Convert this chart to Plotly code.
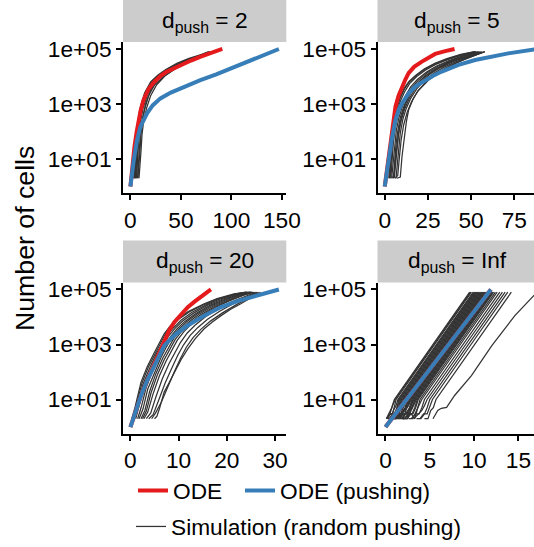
import plotly.graph_objects as go

# ---------------- data ----------------
panel_labels = ["2", "5", "20", "Inf"]

# d_push = 2
ode_t_2 = [0, 2, 4, 6, 8, 10, 13, 18, 23, 30, 36, 45, 53, 60, 69, 80, 91]
ode_n_2 = [1, 6.3, 28, 89, 250, 560, 1400, 3500, 6000, 10500, 15000, 22000, 30000, 38000, 52000, 71000, 100000]
push_t_2 = [0, 1.5, 3.3, 5, 6.6, 9.9, 13, 16.5, 22, 29.7, 40, 49.5, 60, 69.3, 85, 100, 122, 147]
push_n_2 = [1, 3.2, 9.1, 22, 49, 150, 280, 460, 890, 1600, 2600, 3700, 5400, 7400, 12000, 20000, 40000, 100000]
sim_t_2 = [
    [3, 4, 5, 6, 8, 10, 14, 20, 27, 35, 46, 58, 70, 77],
    [5, 6, 7, 8, 10, 13, 18, 25, 35, 46, 60, 72, 80],
    [7, 8, 9, 10, 12, 15, 20, 27, 37, 48, 62, 75, 83],
    [4, 5, 6, 7, 9, 12, 16, 22, 30, 40, 52, 65, 75, 79],
    [8.5, 9.5, 10.5, 11.5, 13, 16, 20, 26, 35, 45, 58, 72, 84],
    [6, 7, 8, 9.5, 12, 16, 22, 30, 40, 52, 66, 78],
    [3.5, 4.5, 5.5, 6.5, 8, 11, 15, 21, 28, 37, 48, 60, 72, 79],
    [5.5, 6.5, 7.5, 8.5, 10, 12.5, 17, 23, 31, 41, 53, 66, 77, 81],
    [4.5, 5.5, 6.5, 7.5, 9, 11.5, 15, 21, 29, 39, 50, 63, 74, 80],
    [7.5, 8.5, 9.5, 10.5, 12, 14, 18, 24, 33, 44, 57, 70, 82],
]
sim_n_2 = [
    [2, 8, 32, 89, 316, 794, 2510, 6310, 11200, 17800, 30200, 45700, 63100, 79400],
    [2, 6.3, 32, 100, 398, 1260, 3980, 8910, 15800, 26300, 43700, 63100, 79400],
    [2, 8, 40, 100, 316, 1000, 3160, 7590, 15100, 26300, 43700, 63100, 79400],
    [2, 10, 40, 100, 398, 1260, 3160, 7080, 12600, 21400, 35500, 52500, 70800, 79400],
    [2, 5, 20, 79, 224, 708, 2000, 5010, 11200, 20000, 35500, 56200, 79400],
    [2, 12.6, 50, 200, 708, 2510, 6310, 11700, 20000, 33100, 52500, 79400],
    [2, 6, 25, 79, 250, 794, 2240, 5620, 10000, 16600, 28200, 43700, 61700, 79400],
    [2, 5, 25, 79, 251, 708, 2240, 5620, 10500, 18600, 31600, 47900, 66100, 79400],
    [2, 7, 35, 110, 355, 1000, 2500, 6000, 11000, 19000, 32000, 49000, 67000, 79400],
    [2, 5, 22, 80, 250, 630, 2000, 5000, 10000, 18600, 33000, 51000, 79400],
]

# d_push = 5
ode_t_5 = [0, 1, 2, 3, 4, 5, 6.2, 8, 10, 12, 13.8, 17, 21.5, 25, 29.2, 35, 40.4]
ode_n_5 = [1, 2.8, 8.9, 32, 100, 282, 794, 2000, 4270, 7940, 13200, 22400, 34700, 47900, 66100, 83200, 100000]
push_t_5 = [0, 1, 2.3, 4, 6.2, 8, 10, 13.8, 18, 23.5, 28, 33, 42.7, 52.3, 62, 71.5, 88]
push_n_5 = [1, 2.8, 11, 50, 263, 603, 1050, 2450, 4470, 7410, 10700, 15100, 26300, 39800, 53700, 69200, 100000]
sim_t_5 = [
    [2.3, 3, 4, 5, 6.5, 8.5, 11, 14, 18, 23, 29, 36, 44, 52],
    [3.5, 4.2, 5, 6, 7.5, 9.5, 12, 15, 19, 24, 30, 37, 45, 54],
    [5, 5.7, 6.5, 7.5, 9, 11, 13.5, 17, 21, 26, 32, 39, 47, 56],
    [6.5, 7.2, 8, 9, 10.5, 12.5, 15, 18.5, 23, 28, 34, 41, 49, 58],
    [7, 9, 10, 11, 12.5, 13.8, 16.5, 19.6, 25.4, 31, 38, 46, 55, 58],
    [4.5, 5.5, 6.5, 7.5, 8.5, 10, 12, 15, 19, 24, 30, 37, 45, 55],
    [3, 3.7, 4.5, 5.5, 7, 9, 11.5, 14.5, 18.5, 23.5, 29.5, 36.5, 44.5, 53],
    [4, 4.8, 5.7, 6.7, 8.2, 10.2, 12.5, 15.5, 19.5, 24.5, 30.5, 37.5, 45.5, 54.5],
    [5.5, 6.2, 7, 8, 9.5, 11.5, 14, 17.5, 21.5, 26.5, 32.5, 39.5, 47.5, 56.5],
    [6, 7.5, 8.5, 9.5, 11, 13, 15.5, 19, 23.5, 28.5, 34.5, 41.5, 49.5, 57.5],
    [2.8, 3.5, 4.3, 5.2, 6.7, 8.7, 11.2, 14.2, 18.2, 23.2, 29.2, 36.2, 44, 52.5],
]
sim_n_5 = [
    [2, 10, 56, 200, 630, 1580, 3550, 6610, 11200, 19100, 30200, 44700, 63100, 79400],
    [2, 10, 40, 126, 355, 891, 2000, 4170, 7940, 14100, 24000, 37200, 56200, 79400],
    [2, 8, 32, 100, 316, 794, 1780, 3980, 7590, 13200, 22400, 35500, 53700, 79400],
    [2, 6.3, 25, 89, 282, 708, 1580, 3550, 7080, 12600, 21400, 33900, 52500, 79400],
    [2, 2.2, 12.6, 50, 224, 603, 1580, 3160, 7410, 13200, 24000, 41700, 70800, 79400],
    [2, 3.2, 16, 63, 158, 398, 1000, 2510, 5620, 11200, 20000, 33100, 50100, 79400],
    [2, 10, 45, 150, 500, 1250, 2800, 5600, 10000, 17000, 27500, 41000, 60000, 79400],
    [2, 8, 35, 110, 320, 800, 1800, 3800, 7400, 13500, 23000, 36000, 55000, 79400],
    [2, 6, 25, 80, 250, 650, 1500, 3500, 6900, 12500, 21500, 34500, 52000, 79400],
    [2, 2.5, 12, 50, 180, 500, 1200, 2900, 6000, 11200, 19500, 32000, 50000, 79400],
    [2, 12, 60, 200, 600, 1500, 3300, 6300, 10800, 18300, 29000, 43000, 61500, 79400],
]

# d_push = 20
ode_t_20 = [0, 1, 2.2, 3.5, 5, 6, 7, 8, 9.1, 10.5, 11.9, 13.3, 14.6, 15.6, 16.7]
ode_n_20 = [1, 3.5, 14, 50, 200, 562, 1410, 3160, 6460, 12600, 22900, 36300, 52500, 70800, 100000]
push_t_20 = [0, 1, 2.2, 3.5, 5, 7, 9.1, 11.9, 15.3, 18.8, 22.2, 25.7, 30.8]
push_n_20 = [1, 3.5, 14, 50, 174, 912, 2140, 4900, 11200, 22900, 38000, 57500, 100000]
sim_t_20 = [
    [0.3, 1, 2.2, 3.5, 5, 6, 7, 8.3, 9.8, 12, 15.3, 18, 21.5, 24],
    [0.8, 1.5, 2.6, 4, 5.5, 6.5, 7.6, 9, 10.5, 12.7, 15.8, 18.5, 22, 24.5],
    [1.5, 2.2, 3.3, 4.6, 6, 7.2, 8.3, 9.7, 11.3, 13.5, 16.5, 19.3, 22.5, 25],
    [2.2, 3, 4, 5.3, 6.7, 7.9, 9, 10.4, 12, 14.2, 17.2, 20, 23, 25.3],
    [2.8, 3.6, 4.7, 6, 7.4, 8.6, 9.7, 11.1, 12.7, 14.8, 17.7, 20.5, 23.5, 25.7],
    [3.3, 4.2, 5.3, 6.6, 8, 9.2, 10.4, 11.8, 13.4, 15.5, 18.2, 21, 24, 26],
    [3.8, 4.7, 5.8, 7.2, 8.6, 9.8, 11, 12.4, 14, 16, 18.6, 21.5, 24.5, 26.3],
    [4.4, 5.2, 6.4, 7.8, 9.2, 10.4, 11.6, 13, 14.6, 16.6, 19.1, 22, 24.9, 26.6],
    [5, 5.5, 6, 7, 8, 9.1, 10.5, 11.9, 13.5, 15.3, 17, 18.8, 20.8, 22.9, 25, 27],
    [0.5, 1.2, 2.4, 3.7, 5.2, 6.2, 7.2, 8.5, 10, 12.2, 15.5, 18.2, 21.7, 24.2],
    [1.1, 1.8, 2.9, 4.3, 5.8, 6.9, 7.9, 9.3, 10.9, 13.1, 16.1, 18.9, 22.2, 24.8],
    [1.8, 2.6, 3.6, 5, 6.4, 7.5, 8.6, 10, 11.6, 13.8, 16.8, 19.6, 22.8, 25.1],
    [2.5, 3.3, 4.3, 5.6, 7, 8.2, 9.3, 10.7, 12.3, 14.5, 17.5, 20.3, 23.3, 25.5],
]
sim_n_20 = [
    [2, 5.6, 43, 158, 525, 1120, 2450, 4790, 8510, 15800, 30200, 46800, 69200, 79400],
    [2, 7.1, 35, 141, 501, 1000, 2140, 4170, 7590, 14500, 28200, 44700, 69200, 79400],
    [2, 5, 28, 112, 398, 891, 1910, 3720, 6920, 13200, 26300, 41700, 66100, 79400],
    [2, 4, 20, 89, 316, 794, 1660, 3310, 6310, 12600, 25100, 39800, 63100, 79400],
    [2, 3.5, 16, 71, 251, 661, 1410, 2950, 5620, 11200, 22900, 38000, 61700, 79400],
    [2, 3.2, 12.6, 56, 200, 525, 1200, 2630, 5010, 10000, 20000, 35500, 58900, 79400],
    [2, 2.8, 8.9, 40, 141, 398, 955, 2140, 4170, 8320, 16600, 31600, 56200, 79400],
    [2, 3.2, 7.9, 32, 112, 316, 794, 1780, 3550, 7080, 14100, 28200, 52500, 79400],
    [2, 2.5, 4.5, 18.6, 40, 100, 282, 692, 1660, 3720, 6610, 11200, 19100, 30200, 50100, 79400],
    [2, 6, 40, 150, 500, 1070, 2350, 4600, 8200, 15300, 29500, 46000, 68500, 79400],
    [2, 6, 32, 125, 450, 950, 2000, 3950, 7250, 13800, 27200, 43200, 67500, 79400],
    [2, 4.5, 24, 100, 355, 840, 1780, 3500, 6600, 12900, 25700, 40700, 64600, 79400],
    [2, 3.8, 18, 80, 280, 720, 1530, 3100, 5950, 11900, 24000, 38900, 62400, 79400],
]

# d_push = Inf
ode_t_inf = [0, 11.9]
ode_n_inf = [1, 100000]
push_t_inf = [0, 11.9]
push_n_inf = [1, 100000]
sim_t_inf = [
    [0.1, 0.4, 0.7, 1.0, 5.35, 9.5],
    [0.1, 0.5, 0.8, 1.1, 5.45, 9.6],
    [0.2, 0.5, 0.8, 1.0, 1.2, 5.55, 9.7],
    [0.3, 0.6, 0.9, 1.2, 1.4, 5.75, 9.9],
    [0.2, 0.6, 1.0, 1.3, 1.5, 5.85, 10.0],
    [0.3, 0.8, 1.2, 1.4, 1.6, 5.95, 10.1],
    [0.5, 0.8, 1.1, 1.4, 1.7, 6.05, 10.2],
    [0.4, 0.9, 1.3, 1.6, 1.8, 6.15, 10.3],
    [0.5, 0.9, 1.3, 1.6, 1.9, 6.25, 10.4],
    [0.7, 1.1, 1.4, 1.8, 2.0, 6.35, 10.5],
    [0.6, 1.0, 1.5, 1.8, 2.1, 6.45, 10.6],
    [0.8, 1.2, 1.6, 2.0, 2.2, 6.55, 10.7],
    [0.9, 1.3, 1.7, 2.0, 2.3, 6.65, 10.8],
    [0.8, 1.2, 1.7, 2.1, 2.4, 6.75, 10.9],
    [1.0, 1.4, 1.8, 2.2, 2.5, 6.85, 11.0],
    [1.1, 1.5, 1.9, 2.3, 2.6, 6.95, 11.1],
    [1.0, 1.5, 2.0, 2.4, 2.7, 7.05, 11.2],
    [1.2, 1.7, 2.1, 2.5, 2.8, 7.15, 11.3],
    [1.3, 1.7, 2.2, 2.6, 2.9, 7.25, 11.4],
    [1.4, 1.9, 2.3, 2.7, 3.0, 7.35, 11.5],
    [1.5, 2.0, 2.4, 2.8, 3.1, 7.45, 11.6],
    [1.6, 2.0, 2.5, 2.9, 3.2, 7.55, 11.7],
    [1.8, 2.2, 2.6, 3.0, 3.3, 7.65, 11.8],
    [1.9, 2.4, 2.8, 3.1, 3.4, 7.75, 11.9],
    [2.0, 2.5, 2.9, 3.2, 3.5, 7.85, 12.0],
    [2.1, 2.6, 3.0, 3.3, 3.6, 7.95, 12.1],
    [2.2, 2.6, 3.1, 3.4, 3.7, 8.05, 12.2],
    [2.4, 2.9, 3.3, 3.6, 3.9, 8.25, 12.4],
    [2.6, 3.1, 3.5, 3.8, 4.1, 8.45, 12.6],
    [2.9, 3.4, 3.8, 4.1, 4.4, 8.75, 12.9],
    [3.2, 3.7, 4.1, 4.4, 4.7, 9.05, 13.2],
    [3.5, 4.0, 4.4, 4.7, 5.0, 9.35, 13.5],
    [3.9, 4.3, 4.7, 5.0, 5.3, 9.65, 13.8],
    [4.4, 4.8, 5.1, 5.4, 5.7, 10.05, 14.2],
    [5.36, 5.9, 6.3, 6.9, 7.8, 9.7, 12, 14.6, 17.1],
]
sim_n_inf = [
    [2, 3, 5, 10, 1000, 79400],
    [2, 3, 6, 10, 1000, 79400],
    [2, 3, 3, 6, 10, 1000, 79400],
    [2, 2, 4, 6, 10, 1000, 79400],
    [2, 3, 3, 5, 10, 1000, 79400],
    [2, 2, 4, 6, 10, 1000, 79400],
    [2, 3, 2, 5, 10, 1000, 79400],
    [2, 3, 4, 6, 10, 1000, 79400],
    [2, 3, 3, 5, 10, 1000, 79400],
    [2, 2, 4, 5, 10, 1000, 79400],
    [2, 3, 3, 6, 10, 1000, 79400],
    [2, 3, 4, 6, 10, 1000, 79400],
    [2, 3, 4, 5, 10, 1000, 79400],
    [2, 2, 3, 6, 10, 1000, 79400],
    [2, 2, 3, 5, 10, 1000, 79400],
    [2, 3, 3, 5, 10, 1000, 79400],
    [2, 3, 2, 5, 10, 1000, 79400],
    [2, 3, 4, 6, 10, 1000, 79400],
    [2, 3, 4, 6, 10, 1000, 79400],
    [2, 2, 3, 5, 10, 1000, 79400],
    [2, 3, 3, 5, 10, 1000, 79400],
    [2, 3, 3, 6, 10, 1000, 79400],
    [2, 3, 4, 5, 10, 1000, 79400],
    [2, 2, 4, 6, 10, 1000, 79400],
    [2, 2, 4, 6, 10, 1000, 79400],
    [2, 3, 3, 5, 10, 1000, 79400],
    [2, 3, 3, 5, 10, 1000, 79400],
    [2, 3, 2, 5, 10, 1000, 79400],
    [2, 2, 4, 6, 10, 1000, 79400],
    [2, 3, 3, 5, 10, 1000, 79400],
    [2, 3, 4, 6, 10, 1000, 79400],
    [2, 2, 3, 5, 10, 1000, 79400],
    [2, 3, 3, 6, 10, 1000, 79400],
    [2, 2, 4, 5, 10, 1000, 79400],
    [2, 4, 4.8, 5.2, 14, 74, 912, 11200, 79400],
]

y_tick_vals = [10, 1000, 100000]
y_tick_text = ["1e+01", "1e+03", "1e+05"]

# ---------------- figure ----------------
RED = "#E41A1C"
BLUE = "#377EB8"
SIM = "#333333"
FONT = "Liberation Sans, Arial, Helvetica, sans-serif"
FS = 22.7

panels = [
    (ode_t_2, ode_n_2, push_t_2, push_n_2, sim_t_2, sim_n_2),
    (ode_t_5, ode_n_5, push_t_5, push_n_5, sim_t_5, sim_n_5),
    (ode_t_20, ode_n_20, push_t_20, push_n_20, sim_t_20, sim_n_20),
    (ode_t_inf, ode_n_inf, push_t_inf, push_n_inf, sim_t_inf, sim_n_inf),
]
axis_ids = [("x", "y"), ("x2", "y2"), ("x3", "y3"), ("x4", "y4")]

fig = go.Figure()
for i, (ot, on, pt, pn, st, sn) in enumerate(panels):
    xa, ya = axis_ids[i]
    for j, (tt, nn) in enumerate(zip(st, sn)):
        fig.add_trace(go.Scatter(
            x=tt, y=nn, mode="lines", xaxis=xa, yaxis=ya,
            line=dict(color=SIM, width=1.25),
            name="Simulation (random pushing)", legend="legend2",
            showlegend=(i == 0 and j == 0)))
for i, (ot, on, pt, pn, st, sn) in enumerate(panels):
    xa, ya = axis_ids[i]
    fig.add_trace(go.Scatter(
        x=ot, y=on, mode="lines", xaxis=xa, yaxis=ya,
        line=dict(color=RED, width=4), name="ODE", legend="legend",
        showlegend=(i == 0)))
for i, (ot, on, pt, pn, st, sn) in enumerate(panels):
    xa, ya = axis_ids[i]
    fig.add_trace(go.Scatter(
        x=pt, y=pn, mode="lines", xaxis=xa, yaxis=ya,
        line=dict(color=BLUE, width=4), name="ODE (pushing)", legend="legend3",
        showlegend=(i == 0)))

W, H = 534, 547
left_dom = [123 / W, 286.3 / W]
right_dom = [377.5 / W, 1.0]
top_dom = [1 - 193.4 / H, 1 - 42.1 / H]
bot_dom = [1 - 433.9 / H, 1 - 282.6 / H]

x_ranges = [[-7.35, 154.35], [-4.2, 86.4], [-1.54, 32.34], [-0.9, 16.76]]
x_dticks = [50, 25, 10, 5]
x_doms = [left_dom, right_dom, left_dom, right_dom]
y_doms = [top_dom, top_dom, bot_dom, bot_dom]

common = dict(showline=True, linecolor="black", linewidth=1.8, ticks="outside",
              ticklen=5, tickwidth=1.8, tickcolor="black", showgrid=False,
              zeroline=False, automargin=False,
              tickfont=dict(size=FS, color="black", family=FONT))
layout_axes = {}
for i in range(4):
    n = "" if i == 0 else str(i + 1)
    layout_axes["xaxis" + n] = dict(common, domain=x_doms[i], range=x_ranges[i],
                                    tick0=0, dtick=x_dticks[i], anchor="y" + n)
    layout_axes["yaxis" + n] = dict(common, domain=y_doms[i], type="log",
                                    range=[-0.25, 5.25], tickvals=y_tick_vals,
                                    ticktext=y_tick_text, anchor="x" + n)

shapes = []
annotations = []
strip_boxes = [
    (left_dom, (1.0, 1 - 42.1 / H)),
    (right_dom, (1.0, 1 - 42.1 / H)),
    (left_dom, (1 - 240.5 / H, 1 - 282.6 / H)),
    (right_dom, (1 - 240.5 / H, 1 - 282.6 / H)),
]
strip_centers_x = [204.7 / W, 457 / W, 204.7 / W, 457 / W]
for i, (xd, (yt, yb)) in enumerate(strip_boxes):
    shapes.append(dict(type="rect", xref="paper", yref="paper", x0=xd[0], x1=xd[1],
                       y0=yb, y1=yt, fillcolor="#CCCCCC", line=dict(width=0),
                       layer="below"))
    annotations.append(dict(
        xref="paper", yref="paper", x=strip_centers_x[i], y=(yt + yb) / 2,
        xanchor="center", yanchor="middle", showarrow=False,
        text="d<sub>push</sub> = " + panel_labels[i],
        font=dict(size=FS, color="black", family=FONT)))

annotations.append(dict(
    xref="paper", yref="paper", x=25 / W, y=1 - 239 / H, xanchor="center",
    yanchor="middle", showarrow=False, textangle=-90, text="Number of cells",
    font=dict(size=26.7, color="black", family=FONT)))

leg_common = dict(orientation="h", xanchor="left", yanchor="middle",
                  font=dict(size=FS, family=FONT, color="black"),
                  bgcolor="rgba(0,0,0,0)")
fig.update_layout(
    width=W, height=H,
    margin=dict(l=0, r=0, t=0, b=0, pad=0, autoexpand=False),
    plot_bgcolor="white", paper_bgcolor="white",
    font=dict(family=FONT, color="black"),
    shapes=shapes, annotations=annotations,
    legend=dict(leg_common, x=133 / W, y=1 - 490.7 / H),
    legend3=dict(leg_common, x=240 / W, y=1 - 490.7 / H),
    legend2=dict(leg_common, x=131 / W, y=1 - 526.7 / H),
    **layout_axes,
)

fig.write_html("out.html")
